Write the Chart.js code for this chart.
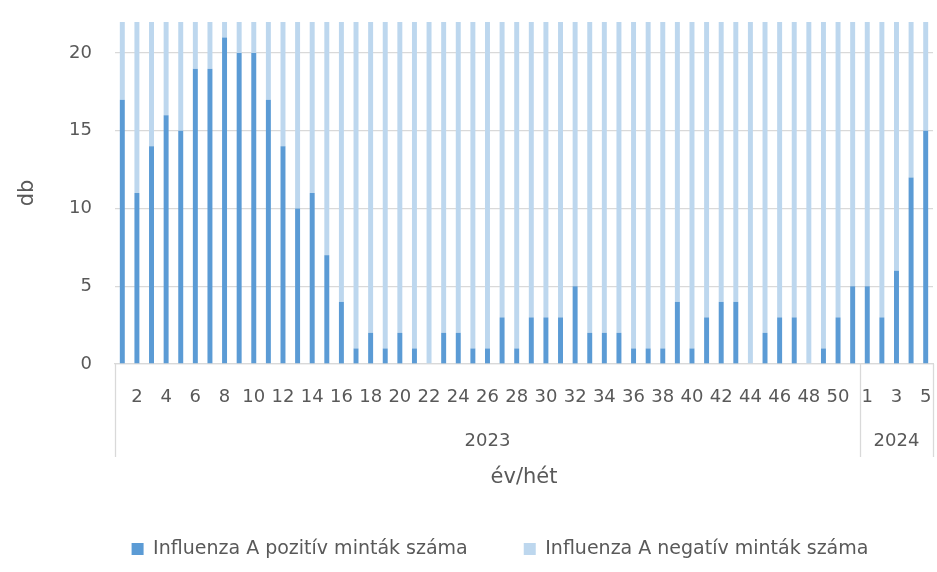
<!DOCTYPE html>
<html>
<head>
<meta charset="utf-8">
<script src="https://cdn.jsdelivr.net/npm/chart.js@4.4.1/dist/chart.umd.min.js"></script>
<style>
  html, body { margin: 0; padding: 0; background: #fff; }
  #wrap { width: 937px; height: 572px; }
</style>
</head>
<body>
<div id="wrap"><canvas id="barChart"></canvas></div>
<script>
// adatok: hetek évenként
const years = ['2023', '2024'];
const weeks2023 = [1, 2, 3, 4, 5, 6, 7, 8, 9, 10, 11, 12, 13, 14, 15, 16, 17, 18, 19, 20,
  21, 22, 23, 24, 25, 26, 27, 28, 29, 30, 31, 32, 33, 34, 35, 36, 37, 38, 39, 40,
  41, 42, 43, 44, 45, 46, 47, 48, 49, 50, 51];
const weeks2024 = [1, 2, 3, 4, 5];

const positive = [17, 11, 14, 16, 15, 19, 19, 21, 20, 20, 17, 14, 10, 11, 7, 4, 1, 2, 1, 2,
  1, 0, 2, 2, 1, 1, 3, 1, 3, 3, 3, 5, 2, 2, 2, 1, 1, 1, 4, 1,
  3, 4, 4, 0, 2, 3, 3, 0, 1, 3, 5,
  5, 3, 6, 12, 15];
const negative = [5, 11, 8, 6, 7, 3, 3, 1, 2, 2, 5, 8, 12, 11, 15, 18, 21, 20, 21, 20,
  21, 22, 20, 20, 21, 21, 19, 21, 19, 19, 19, 17, 20, 20, 20, 21, 21, 21, 18, 21,
  19, 18, 18, 22, 20, 19, 19, 22, 21, 19, 17,
  17, 19, 16, 10, 7];
const yTicks = [0, 5, 10, 15, 20];
const yMax = 22;

const labels = weeks2023.concat(weeks2024).map(String);
const groups = [
  { year: years[0], start: 0, end: weeks2023.length - 1 },
  { year: years[1], start: weeks2023.length, end: weeks2023.length + weeks2024.length - 1 }
];

const FONT = "'DejaVu Sans', sans-serif";
const TEXT = '#595959';
const GRID = '#d9d9d9';

// második szint az x tengelyen: évek és elválasztó vonalak
const yearRow = {
  id: 'yearRow',
  afterDraw(chart) {
    const x = chart.scales.x;
    const ctx = chart.ctx;
    const y0 = chart.chartArea.bottom;
    const edge = i => {
      if (i <= 0) return x.left;
      if (i >= labels.length) return x.right;
      return (x.getPixelForValue(i - 1) + x.getPixelForValue(i)) / 2;
    };
    ctx.save();
    ctx.strokeStyle = GRID;
    ctx.lineWidth = 1.3;
    const cuts = [0].concat(groups.map(g => g.end + 1));
    cuts.forEach(c => {
      const px = Math.round(edge(c)) + 0.5;
      ctx.beginPath();
      ctx.moveTo(px, y0);
      ctx.lineTo(px, y0 + 93);
      ctx.stroke();
    });
    ctx.fillStyle = TEXT;
    ctx.font = '18px ' + FONT;
    ctx.textAlign = 'center';
    ctx.textBaseline = 'middle';
    groups.forEach(g => {
      const cx = (edge(g.start) + edge(g.end + 1)) / 2;
      ctx.fillText(g.year, cx, y0 + 77);
    });
    ctx.restore();
  }
};

const ctx = document.getElementById('barChart').getContext('2d');

new Chart(ctx, {
  type: 'bar',
  data: {
    labels: labels,
    datasets: [{
      label: 'Influenza A pozitív minták száma',
      data: positive,
      backgroundColor: '#5B9BD5',
      barPercentage: 1,
      categoryPercentage: 0.34
    }, {
      label: 'Influenza A negatív minták száma',
      data: negative,
      backgroundColor: '#BDD7EE',
      barPercentage: 1,
      categoryPercentage: 0.34
    }]
  },
  options: {
    responsive: true,
    maintainAspectRatio: false,
    animation: false,
    layout: { padding: { top: 22, right: 4, bottom: 3.5, left: 67 } },
    plugins: {
      tooltip: { enabled: false },
      legend: {
        position: 'bottom',
        labels: {
          boxWidth: 12,
          boxHeight: 12,
          padding: 56,
          color: TEXT,
          font: { family: FONT, size: 19 }
        }
      }
    },
    scales: {
      x: {
        stacked: true,
        grid: { display: true, color: 'transparent', drawTicks: true, tickLength: 23, tickColor: 'transparent' },
        border: { display: true, color: GRID, width: 1.3 },
        ticks: {
          autoSkip: false,
          maxRotation: 0,
          minRotation: 0,
          padding: 0,
          color: TEXT,
          font: { family: FONT, size: 18 },
          callback: function (val, i) {
            return i % 2 === 1 ? this.getLabelForValue(val) : '';
          }
        },
        title: {
          display: true,
          text: 'év/hét',
          color: TEXT,
          font: { family: FONT, size: 21 },
          padding: { top: 0, bottom: -7 }
        },
        afterFit(scale) { scale.height = 119.5; }
      },
      y: {
        stacked: true,
        min: 0,
        max: yMax,
        grid: { color: GRID, lineWidth: 1.3, drawTicks: true, tickLength: 23, tickColor: 'transparent' },
        border: { display: false },
        afterBuildTicks(scale) {
          scale.ticks = yTicks.map(v => ({ value: v }));
        },
        ticks: {
          padding: 0,
          color: TEXT,
          font: { family: FONT, size: 18 }
        },
        title: {
          display: true,
          text: 'db',
          color: TEXT,
          font: { family: FONT, size: 21 },
          padding: { top: -51.6, bottom: 0 }
        },
        afterFit(scale) { scale.width = 48; }
      }
    }
  },
  plugins: [yearRow]
});
</script>
</body>
</html>
